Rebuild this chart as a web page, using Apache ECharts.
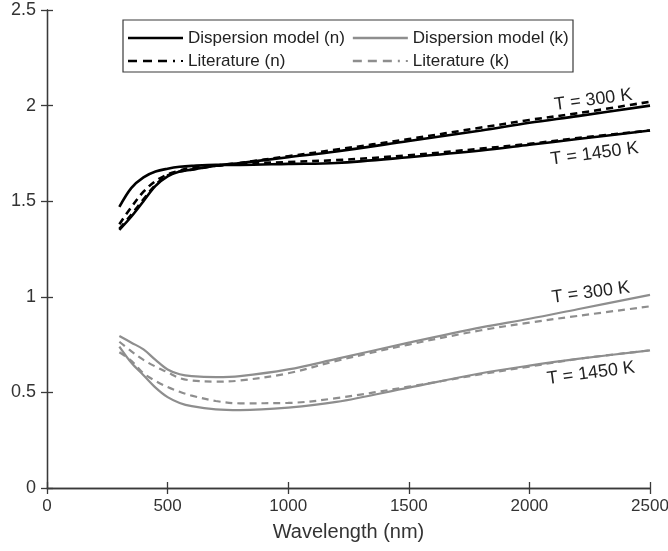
<!DOCTYPE html>
<html>
<head>
<meta charset="utf-8">
<script src="https://cdn.jsdelivr.net/npm/echarts@6/dist/echarts.min.js"></script>
<style>
	html, body { margin: 0; padding: 0; background: #fff; }
	#chart { width: 668px; height: 551px; }
</style>
</head>
<body>
<div id="chart"></div>
<script type="text/javascript">
	// wavelength grid (nm) shared by all curves
	var wl = [300, 350, 400, 450, 500, 550, 600, 700, 800, 1000, 1200, 1500, 1800, 2000, 2200, 2500];

	// refractive index n
	var nModel300  = [1.35, 1.42, 1.50, 1.58, 1.63, 1.655, 1.665, 1.685, 1.70, 1.73, 1.76, 1.815, 1.87, 1.91, 1.945, 2.00];
	var nModel1450 = [1.47, 1.57, 1.625, 1.655, 1.67, 1.68, 1.685, 1.69, 1.69, 1.695, 1.70, 1.73, 1.765, 1.795, 1.825, 1.87];
	var nLit300    = [1.355, 1.43, 1.51, 1.585, 1.635, 1.655, 1.665, 1.685, 1.70, 1.735, 1.77, 1.825, 1.885, 1.925, 1.96, 2.02];
	var nLit1450   = [1.38, 1.47, 1.55, 1.605, 1.64, 1.66, 1.675, 1.685, 1.695, 1.705, 1.715, 1.74, 1.775, 1.80, 1.83, 1.87];

	// extinction coefficient k
	var kModel300  = [0.795, 0.76, 0.725, 0.67, 0.62, 0.595, 0.585, 0.58, 0.585, 0.62, 0.675, 0.76, 0.84, 0.885, 0.935, 1.01];
	var kModel1450 = [0.74, 0.655, 0.59, 0.525, 0.475, 0.445, 0.428, 0.411, 0.407, 0.42, 0.45, 0.525, 0.60, 0.64, 0.675, 0.72];
	var kLit300    = [0.765, 0.715, 0.67, 0.635, 0.605, 0.575, 0.562, 0.556, 0.562, 0.60, 0.665, 0.75, 0.825, 0.865, 0.90, 0.95];
	var kLit1450   = [0.71, 0.665, 0.60, 0.56, 0.528, 0.503, 0.483, 0.455, 0.443, 0.445, 0.47, 0.53, 0.595, 0.635, 0.675, 0.72];

	var legendNames = ['Dispersion model (n)', 'Dispersion model (k)', 'Literature (n)', 'Literature (k)'];

	// temperature annotations [wavelength, value, text]
	var notes = [
		[2265, 2.03, 'T = 300 K'],
		[2270, 1.748, 'T = 1450 K'],
		[2255, 1.022, 'T = 300 K'],
		[2255, 0.60, 'T = 1450 K']
	];

	function pairs(ys) {
		return wl.map(function (x, i) { return [x, ys[i]]; });
	}

	var FONT = '"Liberation Sans", Arial, sans-serif';
	var BLACK = '#000000';
	var GREY = '#8e8e8e';

	// legend icons: thin bar, tiny corner dots keep the 55x14 box
	var BOX = 'M0,0L0.01,0L0,0.01Z M55,14L54.99,14L55,13.99Z ';
	var ICON_SOLID = 'path://' + BOX + 'M0,5.7H55V8.3H0Z';
	var ICON_DASH = 'path://' + BOX + 'M0,5.7H9V8.3H0Z M15,5.7H24V8.3H15Z M30,5.7H39V8.3H30Z M45,5.7H47V8.3H45Z M53,6H55V8H53Z';

	function curve(name, ys, color, dashed, width) {
		return {
			name: name,
			type: 'line',
			data: pairs(ys),
			smooth: 0.35,
			symbol: 'none',
			silent: true,
			lineStyle: { color: color, width: width, type: dashed ? [7, 5] : 'solid' },
			itemStyle: { color: color }
		};
	}

	var axisLineStyle = { color: '#3a3a3a', width: 1.3 };

	var option = {
		animation: false,
		backgroundColor: '#fff',
		grid: { left: 47, right: 18, top: 10, bottom: 63, containLabel: false, outerBoundsMode: 'none' },
		legend: {
			// vertical legend that wraps into two columns
			orient: 'vertical',
			left: 123, top: 23, height: 46,
			itemWidth: 55, itemHeight: 14, itemGap: 3,
			selectedMode: false,
			textStyle: { fontFamily: FONT, fontSize: 17, color: '#222', lineHeight: 20, padding: [0, 5, 0, 0] },
			data: [
				{ name: legendNames[0], icon: ICON_SOLID, itemStyle: { color: BLACK } },
				{ name: legendNames[2], icon: ICON_DASH, itemStyle: { color: BLACK } },
				{ name: legendNames[1], icon: ICON_SOLID, itemStyle: { color: GREY } },
				{ name: legendNames[3], icon: ICON_DASH, itemStyle: { color: GREY } }
			]
		},
		xAxis: [{
			type: 'value', min: 0, max: 2500, interval: 500,
			name: 'Wavelength (nm)', nameLocation: 'middle', nameGap: 34,
			nameTextStyle: { fontFamily: FONT, fontSize: 20, color: '#333' },
			axisLine: { show: true, lineStyle: axisLineStyle },
			axisTick: { show: true, inside: true, length: 6, lineStyle: axisLineStyle },
			axisLabel: { fontFamily: FONT, fontSize: 17, color: '#333', margin: 10,
				formatter: function (v) { return String(v); } },
			splitLine: { show: false }
		}, {
			type: 'value', min: 0, max: 2500, interval: 500, position: 'top',
			axisLine: { show: true, lineStyle: axisLineStyle },
			axisTick: { show: true, inside: true, length: 6, lineStyle: axisLineStyle },
			axisLabel: { show: false },
			splitLine: { show: false }
		}],
		yAxis: [{
			type: 'value', min: 0, max: 2.5, interval: 0.5,
			axisLine: { show: true, lineStyle: axisLineStyle },
			axisTick: { show: true, inside: true, length: 6, lineStyle: axisLineStyle },
			axisLabel: { fontFamily: FONT, fontSize: 18, color: '#333', margin: 11 },
			splitLine: { show: false }
		}, {
			type: 'value', min: 0, max: 2.5, interval: 0.5, position: 'right',
			axisLine: { show: true, lineStyle: axisLineStyle },
			axisTick: { show: true, inside: true, length: 6, lineStyle: axisLineStyle },
			axisLabel: { show: false },
			splitLine: { show: false }
		}],
		series: [
			curve(legendNames[0], nModel300, BLACK, false, 2.6),
			curve(legendNames[0], nModel1450, BLACK, false, 2.6),
			curve(legendNames[2], nLit300, BLACK, true, 2.6),
			curve(legendNames[2], nLit1450, BLACK, true, 2.6),
			curve(legendNames[1], kModel300, GREY, false, 2.2),
			curve(legendNames[1], kModel1450, GREY, false, 2.2),
			curve(legendNames[3], kLit300, GREY, true, 2.2),
			curve(legendNames[3], kLit1450, GREY, true, 2.2)
		],
		graphic: [{
			type: 'rect',
			shape: { x: 123, y: 20, width: 450, height: 52 },
			style: { fill: '#fff', stroke: '#3a3a3a', lineWidth: 1.2 },
			z: 1
		}]
	};

	var chart = echarts.init(document.getElementById('chart'), null, { renderer: 'canvas' });
	chart.setOption(option);

	// temperature labels, placed through the axes
	var texts = notes.map(function (n) {
		var p = chart.convertToPixel({ gridIndex: 0 }, [n[0], n[1]]);
		return {
			type: 'text',
			x: p[0], y: p[1],
			rotation: 7.5 * Math.PI / 180,
			style: {
				text: n[2], fontFamily: FONT, fontSize: 18, fill: '#222',
				textAlign: 'center', textVerticalAlign: 'middle'
			},
			z: 10
		};
	});
	chart.setOption({ graphic: option.graphic.concat(texts) });
</script>
</body>
</html>
